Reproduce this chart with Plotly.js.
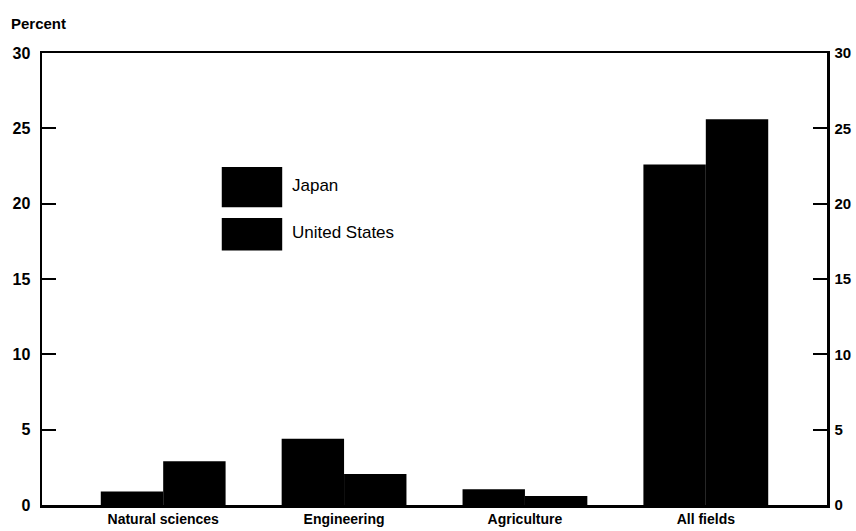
<!DOCTYPE html>
<html>
<head>
<meta charset="utf-8">
<script src="https://cdn.plot.ly/plotly-3.0.1.min.js"></script>
<style>html,body{margin:0;padding:0;background:#fff;}#chart{width:856px;height:531px;}</style>
</head>
<body>
<div id="chart"></div>
<script>
const categories = ["Natural sciences", "Engineering", "Agriculture", "All fields"];
const japan = [0.9, 4.4, 1.05, 22.6];
const unitedStates = [2.9, 2.05, 0.6, 25.6];
const yTicks = [0, 5, 10, 15, 20, 25, 30];
const seriesNames = ["Japan", "United States"];

const fam = "Liberation Sans Narrow, Liberation Sans, Arial";
const tickFont = {family: fam, size: 16, color: "#000", weight: 700};
const x = categories.map((c, i) => i);

const traces = [
  {type: "bar", name: seriesNames[0], x: x, y: japan, marker: {color: "#000", line: {width: 0}}, showlegend: false, hoverinfo: "skip"},
  {type: "bar", name: seriesNames[1], x: x, y: unitedStates, marker: {color: "#000", line: {width: 0}}, showlegend: false, hoverinfo: "skip"},
  {type: "scatter", mode: "none", x: [], y: [], yaxis: "y2", showlegend: false, hoverinfo: "skip"}
];

const layout = {
  width: 856, height: 531,
  margin: {l: 42, r: 29, t: 53, b: 26, pad: 0},
  paper_bgcolor: "#fff", plot_bgcolor: "#fff",
  barmode: "group", bargap: 0.31, bargroupgap: 0,
  showlegend: false,
  xaxis: {
    range: [-0.67, 3.67], tickmode: "array", tickvals: x, ticktext: categories,
    showline: true, linecolor: "#000", linewidth: 2.5, mirror: true,
    ticks: "", showgrid: false, zeroline: false, fixedrange: true,
    tickfont: {family: fam, size: 14, color: "#000", weight: 700}
  },
  yaxis: {
    range: [0, 30], tickmode: "array", tickvals: yTicks, ticktext: yTicks.map(String),
    showline: true, linecolor: "#000", linewidth: 2.5,
    ticks: "inside", ticklen: 14, tickwidth: 2, tickcolor: "#000",
    showgrid: false, zeroline: false, fixedrange: true, tickfont: tickFont, ticklabelstandoff: 6
  },
  yaxis2: {
    overlaying: "y", side: "right", range: [0, 30], tickmode: "array", tickvals: yTicks, ticktext: yTicks.map(String),
    showline: true, linecolor: "#000", linewidth: 2.5,
    ticks: "inside", ticklen: 14, tickwidth: 2, tickcolor: "#000",
    showgrid: false, zeroline: false, fixedrange: true, tickfont: {family: fam, size: 15, color: "#000", weight: 700}, ticklabelstandoff: 2
  },
  shapes: [
    {type: "rect", xref: "paper", yref: "paper", x0: 0.229, x1: 0.306, y0: 0.659, y1: 0.748, fillcolor: "#000", line: {width: 0}},
    {type: "rect", xref: "paper", yref: "paper", x0: 0.229, x1: 0.306, y0: 0.563, y1: 0.635, fillcolor: "#000", line: {width: 0}}
  ],
  annotations: [
    {xref: "paper", yref: "paper", x: 0.316, y: 0.706, xanchor: "left", yanchor: "middle", text: seriesNames[0], showarrow: false,
     font: {family: fam, size: 17, color: "#000"}},
    {xref: "paper", yref: "paper", x: 0.316, y: 0.602, xanchor: "left", yanchor: "middle", text: seriesNames[1], showarrow: false,
     font: {family: fam, size: 17, color: "#000"}},
    {xref: "paper", yref: "paper", x: -0.042, y: 1, yshift: 30, xanchor: "left", yanchor: "middle", text: "Percent", showarrow: false,
     font: {family: fam, size: 15, color: "#000", weight: 700}}
  ]
};

Plotly.newPlot("chart", traces, layout, {staticPlot: true, displayModeBar: false});
</script>
</body>
</html>
